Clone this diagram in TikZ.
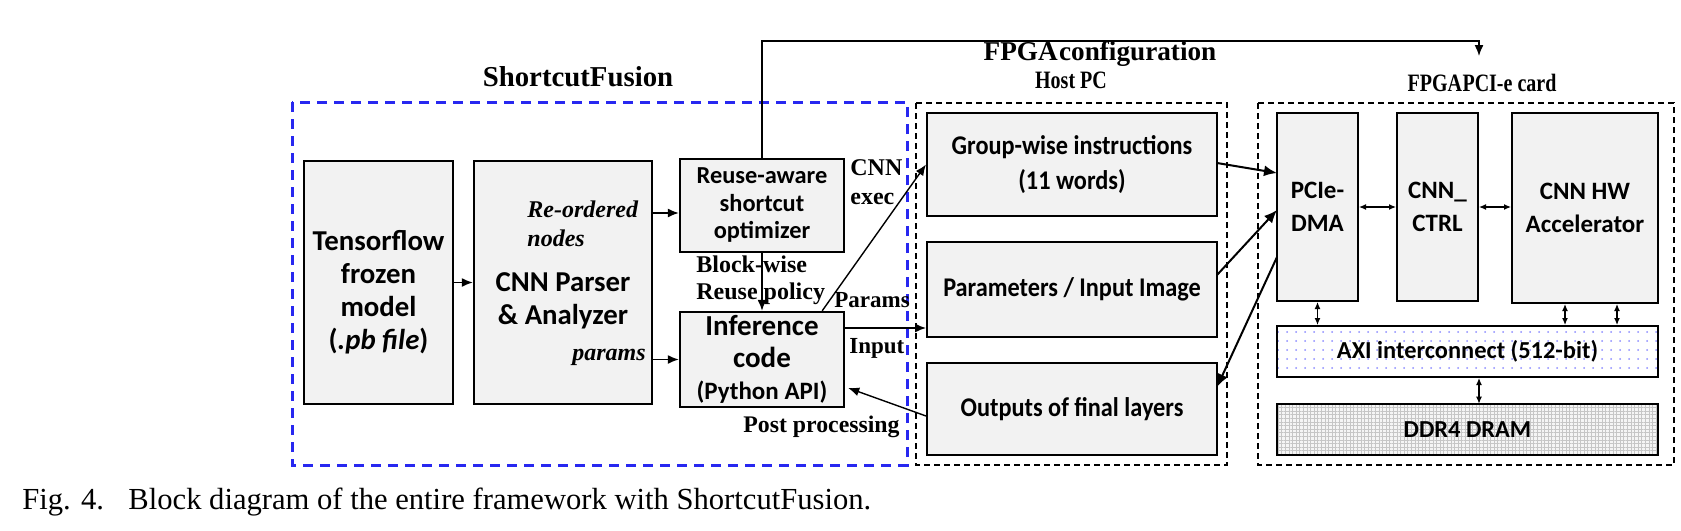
\documentclass[tikz,border=0pt]{standalone}
\usepackage{fontspec}
\setmainfont{Liberation Serif}
\newfontfamily\bxfont{Carlito}
\newfontfamily\bxnarrow{Carlito}[FakeStretch=0.9]
\newfontfamily\tmnarrow{Liberation Serif}[FakeStretch=0.8]
\usetikzlibrary{arrows.meta,patterns.meta,calc}
\definecolor{boxgray}{HTML}{F2F2F2}
\definecolor{sfblue}{RGB}{40,40,240}
\begin{document}
\begin{tikzpicture}[x=0.5pt,y=-0.5pt,
  box/.style={draw=black, line width=1.2pt, fill=boxgray, inner sep=0pt, align=center,
    font=\bxfont\bfseries\fontsize{14.4}{16.5}\selectfont},
  hbox/.style={draw=black, line width=1pt, fill=boxgray, inner sep=0pt, align=center,
    font=\bxnarrow\bfseries\fontsize{13.5}{17.5}\selectfont},
  fbox/.style={draw=black, line width=1pt, fill=boxgray, inner sep=0pt, align=center,
    font=\bxfont\bfseries\fontsize{12.5}{16.5}\selectfont},
  btxt/.style={inner sep=0pt, align=center, font=\bxfont\bfseries\fontsize{14.4}{16.5}\selectfont},
  lbl/.style={inner sep=0pt, align=left, font=\bfseries\fontsize{12}{14.5}\selectfont},
  ilbl/.style={inner sep=0pt, align=left, font=\bfseries\itshape\fontsize{12}{14.5}\selectfont},
  arr/.style={line width=0.7pt, -{Latex[length=5.5pt,width=4.5pt]}},
  tharr/.style={line width=1pt, -{Latex[length=6.5pt,width=5.5pt]}},
  darr/.style={line width=0.6pt, {Latex[length=3.5pt,width=3pt]}-{Latex[length=3.5pt,width=3pt]}},
  sfbox/.style={draw=sfblue, line width=1.5pt, dash pattern=on 5pt off 3.5pt},
  hostbox/.style={draw=black, line width=0.8pt, dash pattern=on 3pt off 2pt}
]
\useasboundingbox (0,0) rectangle (1681,530);

% containers
\draw[sfbox] (292,102) rectangle (907,465);
\draw[hostbox] (916,103) rectangle (1227,465);
\draw[hostbox] (1258,103) rectangle (1674,465);

% titles
\node[inner sep=0pt, font=\bfseries\fontsize{14.4}{16}\selectfont] (tsf) at (578,77) {ShortcutFusion};
\node[inner sep=0pt, font=\bfseries\fontsize{13.6}{16}\selectfont] (tfpga) at (1100,54) {FPGA\kern0.05em configuration};
\node[inner sep=0pt, font=\tmnarrow\bfseries\fontsize{12.5}{14}\selectfont] (thost) at (1071,80) {Host PC};
\node[inner sep=0pt, font=\tmnarrow\bfseries\fontsize{12.5}{14}\selectfont] (tcard) at (1482,83) {FPGA\kern0.02em PCI-e card};

% ShortcutFusion boxes
\node[box, minimum width=74.5pt, minimum height=121.5pt] (tf) at (378.5,282.5) {};
\node[btxt] (tft) at (378.5,292.5) {Tensorflow\\frozen\\model\\(\textit{.pb file})};
\node[box, minimum width=89pt, minimum height=121.5pt] (cnn) at (563,282.5) {};
\node[btxt] (cnnt) at (563,300.5) {CNN Parser\\\& Analyzer};
\node[box, minimum width=82pt, minimum height=46.5pt, font=\bxfont\bfseries\fontsize{12.2}{13.75}\selectfont] (reuse) at (762,205.5) {Reuse-aware\\shortcut\\optimizer};
\node[box, minimum width=82pt, minimum height=47.5pt, font=\bxfont\bfseries\fontsize{14.5}{16}\selectfont] (infer) at (762,359.5) {Inference\\code\\{\fontsize{12.5}{15.5}\selectfont (Python API)}};

% Host PC boxes
\node[hbox, minimum width=145pt, minimum height=51.5pt] (group) at (1072,164.5) {Group-wise instructions\\(11 words)};
\node[hbox, minimum width=145pt, minimum height=47.5pt] (param) at (1072,289.5) {Parameters / Input Image};
\node[hbox, minimum width=145pt, minimum height=46pt] (outp) at (1072,409) {Outputs of final layers};

% FPGA card boxes
\node[fbox, minimum width=40.5pt, minimum height=94pt] (pcie) at (1317.5,207) {PCIe-\\DMA};
\node[fbox, minimum width=40.5pt, minimum height=94pt] (ctrl) at (1437.5,207) {CNN\_\\CTRL};
\node[fbox, minimum width=73pt, minimum height=95pt] (hw) at (1585,208) {CNN HW\\Accelerator};
\node[fbox, fill=none, preaction={fill=white}, pattern={Dots[distance=4.5pt, radius=0.5pt]}, pattern color=blue!45,
  minimum width=190.5pt, minimum height=25.5pt] (axi) at (1467.5,351.5) {};
\node[inner sep=0pt, font=\bxfont\bfseries\fontsize{12.2}{14}\selectfont] (axit) at (axi) {AXI interconnect (512-bit)};
\node[fbox, fill=none, preaction={fill=boxgray!80}, pattern={Hatch[distance=1.8pt, angle=0, line width=0.3pt]}, pattern color=gray!45,
  minimum width=190.5pt, minimum height=25.5pt] (ddr) at (1467.5,429.5) {};
\node[inner sep=0pt, font=\bxfont\bfseries\fontsize{12.2}{14}\selectfont] (ddrt) at (ddr) {DDR4 DRAM};

% helper coordinates
\coordinate (y213) at (0,213);
\coordinate (y328) at (0,328);
\coordinate (y416) at (0,416);
\coordinate (y388) at (0,388);
\coordinate (ytop) at (0,41);
\coordinate (cardtip) at (1479,56);
\coordinate (pA) at (1277,173);
\coordinate (pB) at (1277,210);
\coordinate (pC) at (1277,257);
\coordinate (gA) at (1217,163);
\coordinate (gB) at (1217,275);
\coordinate (gC) at (1217,387);
\coordinate (hx1) at (1565,0);
\coordinate (hx2) at (1617,0);
\coordinate (dx) at (1479,0);

% connectors
\draw[arr] (tf.east) -- (cnn.west);
\draw[arr] (cnn.east |- y213) -- (reuse.west |- y213);
\draw[arr] (cnn.east |- infer.west) -- (infer.west);
\draw[arr] (reuse.south) -- (infer.north);
\draw[arr] (reuse.north) -- (reuse.north |- ytop) -| (cardtip);
\draw[arr] ($(infer.north east)+(-23,0)$) -- (group.west);
\draw[arr] (infer.east |- y328) -- (param.west |- y328);
\draw[arr] (outp.west |- y416) -- ($(infer.east |- y388)+(3,0)$);
\draw[tharr] (gA) -- (pA);
\draw[tharr] (gB) -- (pB);
\draw[tharr] (pC) -- (gC);
\draw[darr] (pcie.east) -- (ctrl.west);
\draw[darr] (ctrl.east) -- (ctrl.east -| hw.west);
\draw[darr] (pcie.south) -- (pcie.south |- axi.north);
\draw[darr] (hw.south -| hx1) -- (axi.north -| hx1);
\draw[darr] (hw.south -| hx2) -- (axi.north -| hx2);
\draw[darr] (axi.south -| dx) -- (ddr.north -| dx);

% labels
\node[ilbl, anchor=west] (lreord) at (527,223.5) {Re-ordered\\nodes};
\node[ilbl, anchor=east] (lparams) at (646,357) {params};
\node[lbl, anchor=west] (lexec) at (850,182.5) {CNN\\exec};
\node[lbl, anchor=west, font=\bfseries\fontsize{12}{13.5}\selectfont] (lblock) at (696,280.5) {Block-wise\\Reuse policy};
\node[lbl, anchor=west, font=\bfseries\fontsize{11.5}{13}\selectfont] (lParams) at (834,300) {Params};
\node[lbl, anchor=west, font=\bfseries\fontsize{11.5}{13}\selectfont] (linput) at (849,348) {Input};
\node[lbl, anchor=east, font=\bfseries\fontsize{11.9}{13}\selectfont] (lpost) at (900,427) {Post processing};

% caption
\node[inner sep=0pt, anchor=west, font=\fontsize{15.3}{17}\selectfont] (cap) at (22,502) {Fig. 4.\hspace{0.8em}Block diagram of the entire framework with ShortcutFusion.};
\end{tikzpicture}
\end{document}
